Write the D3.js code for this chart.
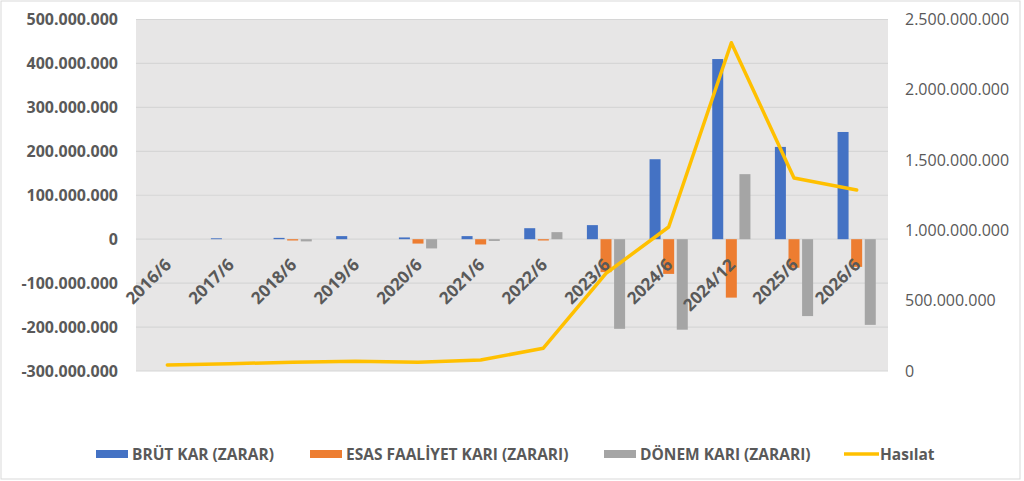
<!DOCTYPE html>
<html lang="tr">
<head>
<meta charset="utf-8">
<title>Hasılat ve Karlılık</title>
<script type="text/javascript" src="https://d3js.org/d3.v7.min.js"></script>
<style>
  body { margin: 0; background: #fff; }
  text { font-family: "Open Sans", sans-serif; fill: #595959; }
</style>
</head>
<body>
<div id="chart"></div>
<script type="text/javascript">

var categories = ["2016/6", "2017/6", "2018/6", "2019/6", "2020/6", "2021/6",
                  "2022/6", "2023/6", "2024/6", "2024/12", "2025/6", "2026/6"];
var brutKar   = [0, 2e6, 3e6, 7e6, 4e6, 7e6, 25e6, 32e6, 182e6, 410e6, 210e6, 244e6];
var esasKar   = [0, 0, -3e6, 0, -10e6, -12e6, -3e6, -75e6, -79e6, -133e6, -65e6, -63e6];
var donemKari = [0, 0, -5e6, 0, -21e6, -4e6, 16e6, -204e6, -206e6, 148e6, -175e6, -195e6];
var hasilat   = [43e6, 52e6, 62e6, 69e6, 62e6, 78e6, 162e6, 695e6, 1024e6, 2335e6, 1373e6, 1287e6];
var leftTicks  = [-300e6, -200e6, -100e6, 0, 100e6, 200e6, 300e6, 400e6, 500e6];
var rightTicks = [0, 500e6, 1000e6, 1500e6, 2000e6, 2500e6];
var seriesNames = ["BRÜT KAR (ZARAR)", "ESAS FAALİYET KARI (ZARARI)", "DÖNEM KARI (ZARARI)", "Hasılat"];

var w = 1024, h = 481;
var plotL = 136, plotR = 888, plotT = 19.5, plotB = 371;
var colors = ["#4472C4", "#ED7D31", "#A5A5A5", "#FFC000"];

var fmt = d3.formatLocale({decimal: ",", thousands: ".", grouping: [3], currency: ["", ""], minus: "-"})
            .format(",.0f");

var svg = d3.select("#chart").append("svg")
            .attr("width", w)
            .attr("height", h);

// outer border
svg.append("rect")
    .attr("x", 1).attr("y", 1)
    .attr("width", 1019).attr("height", 478)
    .attr("fill", "#fff")
    .attr("stroke", "#d9d9d9");

// plot background
svg.append("rect")
    .attr("x", plotL).attr("y", plotT)
    .attr("width", plotR - plotL).attr("height", plotB - plotT)
    .attr("fill", "#e7e6e6");

var xScale = d3.scaleBand().domain(categories).range([plotL, plotR]);
var yLeft = d3.scaleLinear().domain([-300e6, 500e6]).range([plotB, plotT]);
var yRight = d3.scaleLinear().domain([0, 2500e6]).range([plotB, plotT]);

// gridlines
svg.append("g").selectAll("line")
    .data(leftTicks)
    .enter().append("line")
    .attr("x1", plotL).attr("x2", plotR)
    .attr("y1", function(d) { return yLeft(d); })
    .attr("y2", function(d) { return yLeft(d); })
    .attr("stroke", "#d6d6d6")
    .attr("stroke-width", 1.2);

// left axis
var yAxisLeft = d3.axisLeft(yLeft).tickValues(leftTicks).tickFormat(fmt).tickSize(0).tickPadding(0);
var gl = svg.append("g")
    .attr("transform", "translate(118,0)")
    .call(yAxisLeft);
gl.select(".domain").remove();
gl.selectAll("text")
    .style("font-family", "'Open Sans', sans-serif")
    .style("font-size", "16px")
    .style("font-weight", "bold")
    .attr("fill", "#595959");

// right axis
var yAxisRight = d3.axisRight(yRight).tickValues(rightTicks).tickFormat(fmt).tickSize(0).tickPadding(0);
var gr = svg.append("g")
    .attr("transform", "translate(905,0)")
    .call(yAxisRight);
gr.select(".domain").remove();
gr.selectAll("text")
    .style("font-family", "'Open Sans', sans-serif")
    .style("font-size", "16px")
    .attr("fill", "#595959");

// bars
var barSeries = [brutKar, esasKar, donemKari];
var barW = 11, step = 13.6;
barSeries.forEach(function(values, s) {
    svg.append("g").selectAll("rect")
        .data(values)
        .enter().append("rect")
        .attr("x", function(d, i) { return xScale(categories[i]) + xScale.bandwidth() / 2 + (s - 1) * step - barW / 2; })
        .attr("y", function(d) { return Math.min(yLeft(d), yLeft(0)); })
        .attr("width", barW)
        .attr("height", function(d) { return Math.abs(yLeft(d) - yLeft(0)); })
        .attr("fill", colors[s]);
});

// category labels
svg.append("g").selectAll("text")
    .data(categories)
    .enter().append("text")
    .attr("transform", function(d) {
        return "translate(" + (xScale(d) + xScale.bandwidth() / 2 + 5) + "," + 266 + ") rotate(-45)";
    })
    .attr("text-anchor", "end")
    .style("font-size", "17px")
    .style("font-weight", "bold")
    .text(function(d) { return d; });

// line
var line = d3.line()
    .x(function(d, i) { return xScale(categories[i]) + xScale.bandwidth() / 2; })
    .y(function(d) { return yRight(d); });

svg.append("path")
    .datum(hasilat)
    .attr("fill", "none")
    .attr("stroke", colors[3])
    .attr("stroke-width", 3.5)
    .attr("stroke-linejoin", "round")
    .attr("stroke-linecap", "round")
    .attr("d", line);

// legend
var legendX = [96, 310, 604, 844];
var lg = svg.append("g");
seriesNames.forEach(function(name, i) {
    if (i < 3) {
        lg.append("rect")
            .attr("x", legendX[i]).attr("y", 450)
            .attr("width", 32).attr("height", 8)
            .attr("fill", colors[i]);
    } else {
        lg.append("line")
            .attr("x1", legendX[i]).attr("x2", legendX[i] + 35)
            .attr("y1", 454).attr("y2", 454)
            .attr("stroke", colors[i])
            .attr("stroke-width", 3.5);
    }
    lg.append("text")
        .attr("x", legendX[i] + 36)
        .attr("y", 459.5)
        .style("font-size", "15.5px")
        .style("font-weight", "bold")
        .text(name);
});

</script>
</body>
</html>
